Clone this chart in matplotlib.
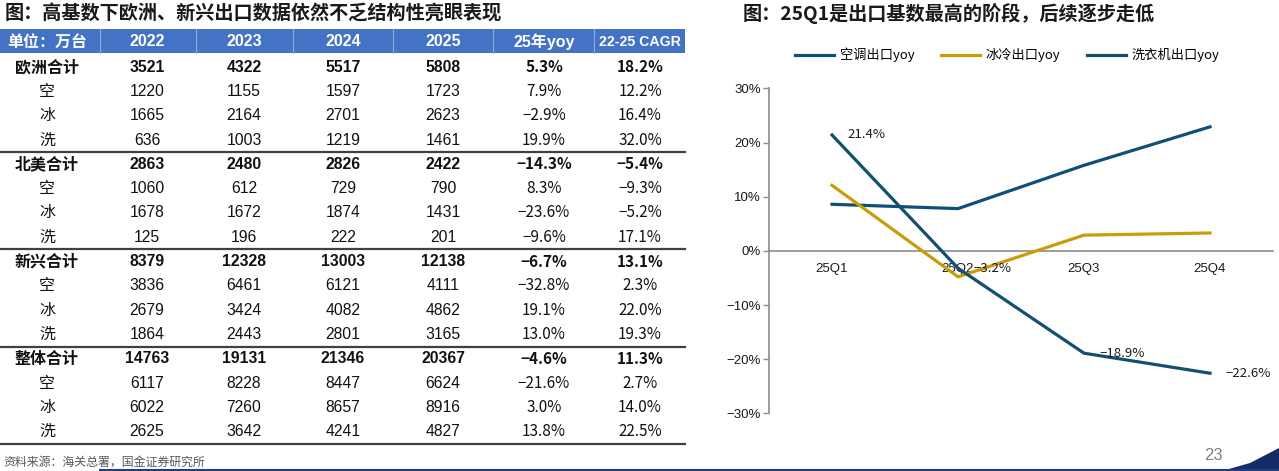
import matplotlib
matplotlib.use("Agg")
import matplotlib.pyplot as plt
from matplotlib.patches import Rectangle, Polygon
from matplotlib.ticker import FuncFormatter

CJK = ['Noto Sans CJK SC', 'DejaVu Sans']
NUM = ['Liberation Sans Narrow', 'Liberation Sans', 'Noto Sans CJK SC']
plt.rcParams['font.family'] = CJK

# ---- table data (万台) ----
col_labels = ['单位：万台', '2022', '2023', '2024', '2025', '25年yoy', '22-25 CAGR']
row_labels = ['欧洲合计', '空', '冰', '洗',
              '北美合计', '空', '冰', '洗',
              '新兴合计', '空', '冰', '洗',
              '整体合计', '空', '冰', '洗']
v2022 = [3521, 1220, 1665, 636, 2863, 1060, 1678, 125,
         8379, 3836, 2679, 1864, 14763, 6117, 6022, 2625]
v2023 = [4322, 1155, 2164, 1003, 2480, 612, 1672, 196,
         12328, 6461, 3424, 2443, 19131, 8228, 7260, 3642]
v2024 = [5517, 1597, 2701, 1219, 2826, 729, 1874, 222,
         13003, 6121, 4082, 2801, 21346, 8447, 8657, 4241]
v2025 = [5808, 1723, 2623, 1461, 2422, 790, 1431, 201,
         12138, 4111, 4862, 3165, 20367, 6624, 8916, 4827]
yoy25 = [5.3, 7.9, -2.9, 19.9, -14.3, 8.3, -23.6, -9.6,
         -6.7, -32.8, 19.1, 13.0, -4.6, -21.6, 3.0, 13.8]
cagr = [18.2, 12.2, 16.4, 32.0, -5.4, -9.3, -5.2, 17.1,
        13.1, 2.3, 22.0, 19.3, 11.3, 2.7, 14.0, 22.5]

# ---- chart data (%) ----
quarters = ['25Q1', '25Q2', '25Q3', '25Q4']
ac_yoy = [8.6, 7.8, 15.8, 22.9]
fridge_yoy = [12.1, -4.8, 2.9, 3.3]
washer_yoy = [21.4, -3.2, -18.9, -22.6]

W, H = 1279, 471
fig = plt.figure(figsize=(W / 100, H / 100), dpi=100)

# background canvas in pixel coordinates
bg = fig.add_axes([0, 0, 1, 1])
bg.set_xlim(0, W)
bg.set_ylim(H, 0)
bg.axis('off')


def fmt_pct(v):
    return ('−' if v < 0 else '') + '%.1f%%' % abs(v)


# titles
bg.text(5, 14, '图：高基数下欧洲、新兴出口数据依然不乏结构性亮眼表现', fontsize=13.8,
        fontweight='bold', va='center', ha='left', color='#1a1a1a')
bg.text(743, 14, '图：25Q1是出口基数最高的阶段，后续逐步走低', fontsize=13.8,
        fontweight='bold', va='center', ha='left', color='#1a1a1a')

# table header
tbl_right = 685
col_x = [47, 147, 244, 343, 443, 544, 640]
col_sep = [100, 196, 293, 393, 493, 594]
bg.add_patch(Rectangle((0, 29), tbl_right, 24, color='#4472c4', lw=0))
for x in col_sep:
    bg.plot([x, x], [29, 53], color='#8eaadb', lw=0.8)
for j, lab in enumerate(col_labels):
    fam = CJK if j == 0 else NUM
    size = 10.2 if j == 6 else 11.5
    bg.text(col_x[j], 41.5, lab, color='white', fontweight='bold',
            fontsize=size, ha='center', va='center', family=fam)

# table body
top, row_h = 55, 24.3
for i, lab in enumerate(row_labels):
    yc = top + row_h * (i + 0.5)
    bold = 'bold' if i % 4 == 0 else 'normal'
    bg.text(col_x[0], yc, lab, fontsize=11.5, fontweight=bold,
            ha='center', va='center', color='#111111')
    vals = [v2022[i], v2023[i], v2024[i], v2025[i]]
    for j, v in enumerate(vals):
        bg.text(col_x[j + 1], yc, str(v), fontsize=11.3, fontweight=bold,
                ha='center', va='center', family=NUM, color='#111111')
    bg.text(col_x[5], yc, fmt_pct(yoy25[i]), fontsize=11, fontweight=bold,
            ha='center', va='center', color='#111111')
    bg.text(col_x[6], yc, fmt_pct(cagr[i]), fontsize=11, fontweight=bold,
            ha='center', va='center', color='#111111')

for k in (4, 8, 12, 16):
    y = top + row_h * k
    bg.plot([0, tbl_right], [y, y], color='#404040', lw=1.6)

# source, page number, footer decoration
bg.text(3, 462, '资料来源：海关总署，国金证券研究所', fontsize=8.6,
        ha='left', va='center', color='#595959')
bg.text(1213, 455, '23', fontsize=12, ha='center', va='center',
        color='#808080', family=['Liberation Sans'])
bg.plot([100, W], [469.8, 469.8], color='#1f3f7a', lw=1.5)
bg.add_patch(Polygon([[1222, 471], [1250, 463], [1279, 448], [1279, 471]],
                     closed=True, color='#162c66', lw=0))

# ---- line chart ----
ax = fig.add_axes([769 / W, 1 - 413.3 / H, 504 / W, (413.3 - 88.4) / H])
xs = list(range(len(quarters)))
blue1, blue2, gold = '#105078', '#13506f', '#c99c08'
ax.plot(xs, ac_yoy, color=blue1, lw=2.3, label='空调出口yoy', zorder=3)
ax.plot(xs, fridge_yoy, color=gold, lw=2.3, label='冰冷出口yoy', zorder=3)
ax.plot(xs, washer_yoy, color=blue2, lw=2.3, label='洗衣机出口yoy', zorder=3)
for x, v in zip(xs, washer_yoy):
    ax.annotate(fmt_pct(v), (x, v), xytext=(11, 0), textcoords='offset points',
                ha='left', va='center', fontsize=9.5, color='#1a1a1a')

ax.set_xlim(-0.5, 3.5)
ax.set_ylim(-30, 30)
ax.set_yticks([-30, -20, -10, 0, 10, 20, 30])
ax.yaxis.set_major_formatter(FuncFormatter(lambda v, p: '%d%%' % v if v >= 0 else '−%d%%' % -v))
ax.set_xticks(xs)
ax.set_xticklabels(quarters)
for s in ('top', 'right'):
    ax.spines[s].set_visible(False)
ax.spines['bottom'].set_position(('data', 0))
ax.spines['bottom'].set_color('#8c8c8c')
ax.spines['left'].set_color('#8c8c8c')
ax.spines['bottom'].set_linewidth(1.2)
ax.spines['left'].set_linewidth(1.2)
ax.tick_params(axis='x', length=0, pad=9, labelsize=9.5, labelcolor='#1a1a1a')
ax.tick_params(axis='y', length=4, width=1, color='#8c8c8c', pad=2,
               labelsize=9.5, labelcolor='#1a1a1a')
for t in ax.get_xticklabels() + ax.get_yticklabels():
    t.set_family(NUM)
ax.patch.set_alpha(0)

fig.legend(loc='center', bbox_to_anchor=(1007 / W, 1 - 55 / H), ncol=3,
           frameon=False, handlelength=3.0, handletextpad=0.4,
           columnspacing=2.0, prop={'family': CJK, 'size': 9.5})

fig.savefig('out.png', dpi=100)
